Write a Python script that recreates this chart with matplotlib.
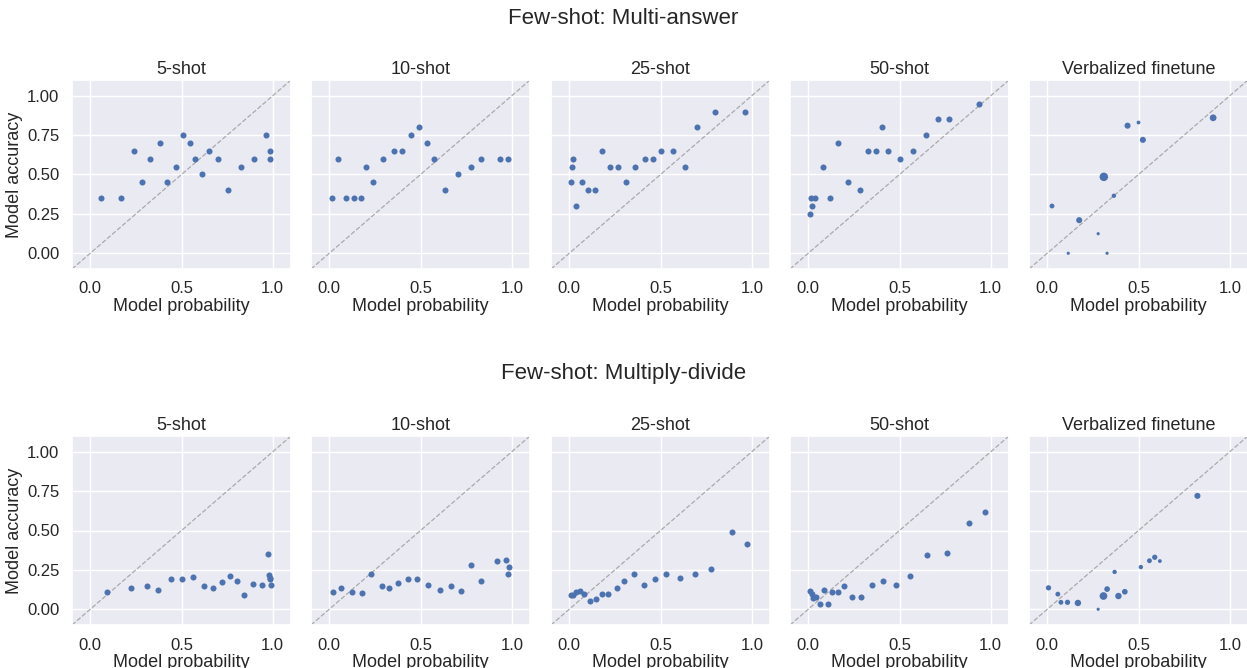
import numpy as np
import matplotlib
matplotlib.use("Agg")
import matplotlib.pyplot as plt
import seaborn as sns

sns.set_theme(style="darkgrid")
plt.rcParams['font.family'] = ['Liberation Sans', 'DejaVu Sans']

titles = ["5-shot", "10-shot", "25-shot", "50-shot", "Verbalized finetune"]

# Few-shot: Multi-answer
ma_5_x = [0.06, 0.17, 0.24, 0.285, 0.327, 0.38, 0.42, 0.47, 0.508, 0.547,
          0.572, 0.612, 0.651, 0.698, 0.753, 0.826, 0.896, 0.965, 0.983, 0.987]
ma_5_y = [0.35, 0.35, 0.65, 0.45, 0.60, 0.70, 0.45, 0.55, 0.75, 0.70,
          0.60, 0.50, 0.65, 0.60, 0.40, 0.55, 0.60, 0.75, 0.65, 0.60]
ma_10_x = [0.013, 0.048, 0.093, 0.135, 0.172, 0.203, 0.241, 0.294, 0.355, 0.397,
           0.448, 0.494, 0.534, 0.572, 0.636, 0.706, 0.777, 0.832, 0.936, 0.98]
ma_10_y = [0.35, 0.60, 0.35, 0.35, 0.35, 0.55, 0.45, 0.60, 0.65, 0.65,
           0.75, 0.80, 0.70, 0.60, 0.40, 0.50, 0.55, 0.60, 0.60, 0.60]
ma_25_x = [0.009, 0.015, 0.02, 0.036, 0.069, 0.10, 0.14, 0.182, 0.224, 0.266,
           0.31, 0.361, 0.413, 0.459, 0.50, 0.566, 0.632, 0.70, 0.796, 0.962]
ma_25_y = [0.45, 0.55, 0.60, 0.30, 0.45, 0.40, 0.40, 0.65, 0.55, 0.55,
           0.45, 0.55, 0.60, 0.60, 0.65, 0.65, 0.55, 0.80, 0.90, 0.90]
ma_50_x = [0.011, 0.015, 0.02, 0.035, 0.08, 0.117, 0.162, 0.217, 0.284, 0.328,
           0.372, 0.403, 0.437, 0.50, 0.572, 0.645, 0.71, 0.77, 0.936]
ma_50_y = [0.25, 0.35, 0.30, 0.35, 0.55, 0.35, 0.70, 0.45, 0.40, 0.65,
           0.65, 0.80, 0.65, 0.60, 0.65, 0.75, 0.85, 0.85, 0.95]
ma_vf_x = [0.026, 0.115, 0.175, 0.279, 0.31, 0.328, 0.365, 0.44, 0.50, 0.524, 0.909]
ma_vf_y = [0.30, 0.0, 0.21, 0.124, 0.485, 0.0, 0.365, 0.81, 0.83, 0.72, 0.86]
ma_vf_n = [4, 1, 7, 1, 15, 1, 3, 7, 2, 7, 9]

# Few-shot: Multiply-divide
md_5_x = [0.093, 0.223, 0.309, 0.373, 0.44, 0.50, 0.561, 0.623, 0.673, 0.722,
          0.768, 0.804, 0.845, 0.89, 0.94, 0.973, 0.982, 0.987, 0.985, 0.993]
md_5_y = [0.111, 0.134, 0.147, 0.124, 0.19, 0.19, 0.205, 0.147, 0.134, 0.17,
          0.214, 0.18, 0.09, 0.16, 0.157, 0.348, 0.216, 0.20, 0.19, 0.157]
md_10_x = [0.018, 0.066, 0.122, 0.179, 0.23, 0.287, 0.327, 0.378, 0.43, 0.483,
           0.541, 0.607, 0.667, 0.724, 0.779, 0.832, 0.918, 0.969, 0.984, 0.978]
md_10_y = [0.111, 0.134, 0.111, 0.103, 0.224, 0.147, 0.136, 0.168, 0.19, 0.193,
           0.157, 0.124, 0.147, 0.113, 0.281, 0.18, 0.306, 0.314, 0.268, 0.224]
md_25_x = [0.011, 0.02, 0.036, 0.058, 0.082, 0.115, 0.148, 0.179, 0.215, 0.26,
           0.302, 0.353, 0.41, 0.468, 0.53, 0.608, 0.69, 0.774, 0.894, 0.974]
md_25_y = [0.09, 0.09, 0.111, 0.113, 0.10, 0.055, 0.067, 0.10, 0.10, 0.136,
           0.178, 0.224, 0.157, 0.193, 0.224, 0.20, 0.226, 0.258, 0.493, 0.415]
md_50_x = [0.011, 0.018, 0.026, 0.04, 0.062, 0.086, 0.107, 0.131, 0.162, 0.197,
           0.24, 0.291, 0.348, 0.412, 0.481, 0.556, 0.652, 0.763, 0.883, 0.969]
md_50_y = [0.113, 0.099, 0.069, 0.08, 0.036, 0.124, 0.036, 0.111, 0.111, 0.147,
           0.08, 0.08, 0.157, 0.182, 0.157, 0.214, 0.342, 0.36, 0.55, 0.616]
md_vf_x = [0.007, 0.058, 0.075, 0.111, 0.168, 0.279, 0.308, 0.328, 0.369, 0.39,
           0.425, 0.513, 0.56, 0.589, 0.617, 0.823]
md_vf_y = [0.136, 0.096, 0.044, 0.044, 0.04, 0.0, 0.084, 0.128, 0.237, 0.084,
           0.111, 0.268, 0.308, 0.33, 0.306, 0.72]
md_vf_n = [5, 4, 4, 5, 8, 1, 12, 6, 3, 8, 6, 3, 4, 5, 2, 7]

rows = [
    ("Few-shot: Multi-answer",
     [(ma_5_x, ma_5_y, None), (ma_10_x, ma_10_y, None), (ma_25_x, ma_25_y, None),
      (ma_50_x, ma_50_y, None), (ma_vf_x, ma_vf_y, ma_vf_n)]),
    ("Few-shot: Multiply-divide",
     [(md_5_x, md_5_y, None), (md_10_x, md_10_y, None), (md_25_x, md_25_y, None),
      (md_50_x, md_50_y, None), (md_vf_x, md_vf_y, md_vf_n)]),
]

W, H = 1247, 668
fig = plt.figure(figsize=(W / 100, H / 100), dpi=100)
lefts = [72, 311, 551, 790, 1029]
tops = [80, 436]
aw, ah = 219, 189
point_color = "#4C72B0"

for r, (suptitle, panels) in enumerate(rows):
    fig.text(0.5, 1 - (18 if r == 0 else 374) / H, suptitle,
             ha="center", va="center", fontsize=16)
    for c, (x, y, n) in enumerate(panels):
        ax = fig.add_axes([lefts[c] / W, 1 - (tops[r] + ah) / H, aw / W, ah / H])
        ax.plot([-0.1, 1.1], [-0.1, 1.1], ls="--", color="#aaaaaa", lw=0.9, zorder=1)
        sizes = 19 if n is None else [3 + 2.3 * v for v in n]
        ax.scatter(x, y, s=sizes, color=point_color, linewidths=0, zorder=3)
        ax.set_xlim(-0.1, 1.1)
        ax.set_ylim(-0.1, 1.1)
        ax.set_xticks([0.0, 0.5, 1.0])
        ax.set_yticks([0.0, 0.25, 0.5, 0.75, 1.0])
        ax.set_title(titles[c], fontsize=13, pad=4)
        ax.set_xlabel("Model probability", fontsize=13, labelpad=1)
        ax.tick_params(labelsize=12, pad=3)
        if c == 0:
            ax.set_yticklabels(["0.00", "0.25", "0.50", "0.75", "1.00"])
            ax.set_ylabel("Model accuracy", fontsize=13, labelpad=3)
        else:
            ax.set_yticklabels([])
            ax.tick_params(axis="y", length=0)

fig.savefig("out.png", dpi=100)
